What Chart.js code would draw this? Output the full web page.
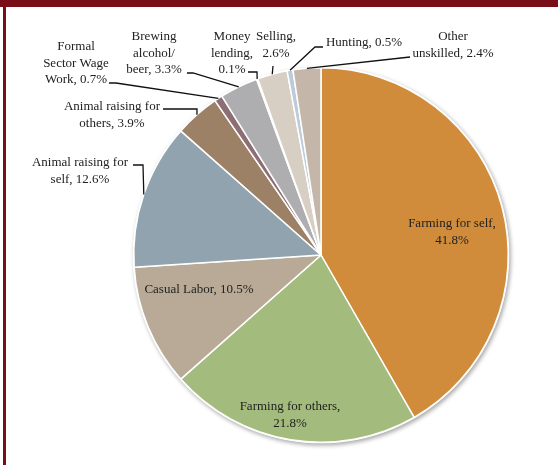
<!DOCTYPE html>
<html>
<head>
<meta charset="utf-8">
<script src="https://cdn.jsdelivr.net/npm/chart.js@4/dist/chart.umd.min.js"></script>
<style>
  body { margin: 0; background: #fff; }
  #wrap { position: relative; width: 558px; height: 465px; overflow: hidden; }
  #topbar { position: absolute; left: 0; top: 0; width: 558px; height: 7px; background: #7a0e18; }
  #leftbar { position: absolute; left: 3px; top: 0; width: 3px; height: 465px; background: #7a0e18; }
  canvas { position: absolute; left: 0; top: 0; }
</style>
</head>
<body>
<div id="wrap">
  <canvas id="grafica" width="558" height="465"></canvas>
  <div id="topbar"></div>
  <div id="leftbar"></div>
</div>
<script>
// categorias y valores (porcentaje)
const categorias = [
  "Farming for self", "Farming for others", "Casual Labor", "Animal raising for self",
  "Animal raising for others", "Formal Sector Wage Work", "Brewing alcohol/beer",
  "Money lending", "Selling", "Hunting", "Other unskilled"
];
const valores = [41.8, 21.8, 10.5, 12.6, 3.9, 0.7, 3.3, 0.1, 2.6, 0.5, 2.4];
const colores = [
  "#d08c3b", "#a3bb7c", "#b8aa96", "#90a3ae", "#9c8167", "#8d6e74",
  "#aeaeb0", "#8f8f8f", "#d8cfc4", "#bccbd9", "#c4b7aa"
];
// texto de cada etiqueta, en lineas ({v} = valor)
const textos = [
  ["Farming for self,", "{v}%"],
  ["Farming for others,", "{v}%"],
  ["Casual Labor, {v}%"],
  ["Animal raising for", "self, {v}%"],
  ["Animal raising for", "others, {v}%"],
  ["Formal", "Sector Wage", "Work, {v}%"],
  ["Brewing", "alcohol/", "beer, {v}%"],
  ["Money", "lending,", "{v}%"],
  ["Selling,", "{v}%"],
  ["Hunting, {v}%"],
  ["Other", "unskilled, {v}%"]
];

// donde va cada etiqueta (centro x, y de la primera linea) y su linea guia
const posiciones = [
  { x: 452, y: 224, guia: null },
  { x: 290, y: 407, guia: null },
  { x: 199, y: 290, guia: null },
  { x: 80, y: 163, guia: [[133, 165], [143, 165]] },
  { x: 112, y: 107, guia: [[163, 109], [197, 109]] },
  { x: 76, y: 47, guia: [[109, 83], [116, 83]] },
  { x: 154, y: 37, guia: [[187, 73], [193, 73]] },
  { x: 232, y: 37, guia: [[248, 72], [257, 72]] },
  { x: 276, y: 37, guia: [[273, 66]] },
  { x: 364, y: 43, guia: [[323, 47], [315, 47]] },
  { x: 453, y: 37, guia: [[410, 57]] }
];

const sombra = {
  id: "sombra",
  beforeDatasetsDraw(chart) {
    const arc = chart.getDatasetMeta(0).data[0];
    const ctx = chart.ctx;
    ctx.save();
    ctx.shadowColor = "rgba(0,0,0,0.35)";
    ctx.shadowBlur = 4;
    ctx.shadowOffsetX = 1.5;
    ctx.shadowOffsetY = 2;
    ctx.fillStyle = "#fff";
    ctx.beginPath();
    ctx.arc(arc.x, arc.y, arc.outerRadius + 1, 0, Math.PI * 2);
    ctx.fill();
    ctx.restore();
  }
};

const etiquetas = {
  id: "etiquetas",
  afterDatasetsDraw(chart) {
    const ctx = chart.ctx;
    const meta = chart.getDatasetMeta(0);
    ctx.save();
    ctx.font = "13px 'Liberation Serif'";
    ctx.fillStyle = "#222";
    ctx.textAlign = "center";
    ctx.textBaseline = "middle";
    meta.data.forEach((arc, i) => {
      const p = posiciones[i];
      textos[i].forEach((t, k) => {
        ctx.fillText(t.replace("{v}", valores[i].toFixed(1)), p.x, p.y + k * 16.5);
      });
      if (p.guia) {
        const a = (arc.startAngle + arc.endAngle) / 2;
        const ex = arc.x + Math.cos(a) * arc.outerRadius;
        const ey = arc.y + Math.sin(a) * arc.outerRadius;
        ctx.strokeStyle = "#111";
        ctx.lineWidth = 1.3;
        ctx.beginPath();
        ctx.moveTo(p.guia[0][0], p.guia[0][1]);
        for (let j = 1; j < p.guia.length; j++) ctx.lineTo(p.guia[j][0], p.guia[j][1]);
        ctx.lineTo(ex, ey);
        ctx.stroke();
      }
    });
    ctx.restore();
  }
};

const myChart = new Chart("grafica", {
  type: "pie",
  data: {
    labels: categorias,
    datasets: [{
      data: valores,
      backgroundColor: colores,
      borderColor: "#fff",
      borderWidth: 1.5
    }]
  },
  options: {
    responsive: false,
    animation: false,
    layout: { padding: { left: 133, right: 49, top: 67, bottom: 22 } },
    plugins: {
      legend: { display: false },
      tooltip: { enabled: false }
    }
  },
  plugins: [sombra, etiquetas]
});
</script>
</body>
</html>
